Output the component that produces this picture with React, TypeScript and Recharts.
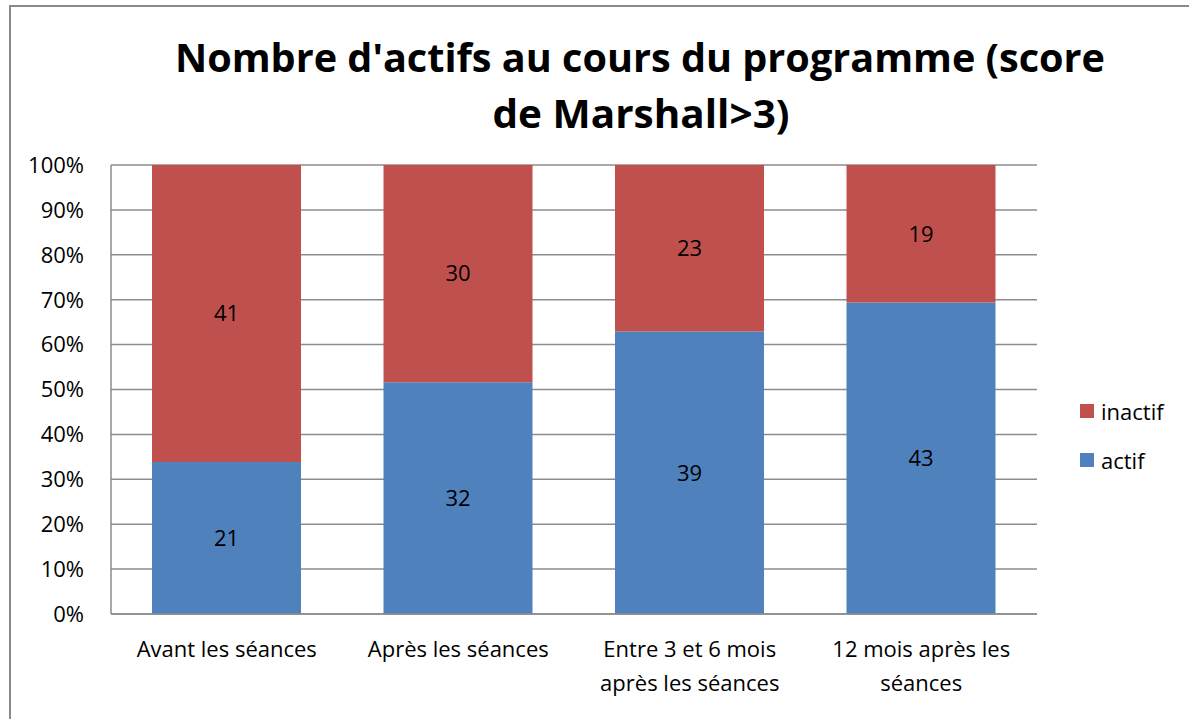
import React from "react";
import { BarChart, Bar, XAxis, YAxis, CartesianGrid, LabelList } from "recharts";

const categories = [
  "Avant les séances",
  "Après les séances",
  "Entre 3 et 6 mois après les séances",
  "12 mois après les séances",
];
const actif = [21, 32, 39, 43];
const inactif = [41, 30, 23, 19];
const yTicks = [0, 0.1, 0.2, 0.3, 0.4, 0.5, 0.6, 0.7, 0.8, 0.9, 1];
const titleLines = ["Nombre d'actifs au cours du programme (score", "de Marshall>3)"];
const legendItems = [
  { name: "inactif", color: "#C0504D" },
  { name: "actif", color: "#4F81BD" },
];

const data = categories.map((c, i) => ({ name: c, actif: actif[i], inactif: inactif[i] }));

const FONT = "'Open Sans', sans-serif";
const GRID = "#8c8c8c";
const FS = 22;

function wrap(text: string, max: number): string[] {
  const words = text.split(" ");
  const lines: string[] = [];
  let cur = "";
  for (const w of words) {
    const next = cur ? cur + " " + w : w;
    if (next.length > max && cur) {
      lines.push(cur);
      cur = w;
    } else cur = next;
  }
  if (cur) lines.push(cur);
  return lines;
}

const XTick = (props: any) => {
  const { x, y, payload } = props;
  const lines = wrap(payload.value, 17);
  return (
    <text x={x} y={y} textAnchor="middle" fontFamily={FONT} fontSize={FS} fill="#000">
      {lines.map((l, i) => (
        <tspan key={i} x={x} dy={i === 0 ? 35 : 34}>
          {l}
        </tspan>
      ))}
    </text>
  );
};

export default function App() {
  return (
    <div style={{ position: "absolute", left: 0, top: 0, width: 1189, height: 719, background: "#fff", overflow: "hidden" }}>
      <div
        style={{
          position: "absolute",
          left: 9,
          top: 5,
          width: 1300,
          height: 900,
          border: "2px solid #8a8a8a",
          boxSizing: "border-box",
        }}
      />
      <svg style={{ position: "absolute", left: 0, top: 0 }} width={1189} height={160}>
        <text x={640} y={72} textAnchor="middle" fontFamily={FONT} fontWeight={700} fontSize={40} textLength={930} lengthAdjust="spacingAndGlyphs">
          {titleLines[0]}
        </text>
        <text x={641} y={128} textAnchor="middle" fontFamily={FONT} fontWeight={700} fontSize={40} textLength={297} lengthAdjust="spacingAndGlyphs">
          {titleLines[1]}
        </text>
      </svg>
      <div style={{ position: "absolute", left: 0, top: 0 }}>
        <BarChart
          width={1189}
          height={719}
          data={data}
          stackOffset="expand"
          margin={{ top: 165, right: 152, bottom: 0, left: 51 }}
          barSize={149}
        >
          <CartesianGrid vertical={false} stroke={GRID} strokeWidth={1.5} />
          <XAxis
            dataKey="name"
            interval={0}
            tickLine={false}
            axisLine={{ stroke: GRID, strokeWidth: 1.5 }}
            tick={<XTick />}
            height={105}
          />
          <YAxis
            width={60}
            domain={[0, 1]}
            ticks={yTicks}
            tickFormatter={(v: number) => Math.round(v * 100) + "%"}
            tickLine={false}
            tickSize={0}
            tickMargin={27}
            axisLine={{ stroke: GRID, strokeWidth: 1.5 }}
            tick={{ fill: "#000", fontSize: FS, fontFamily: FONT }}
          />
          <Bar dataKey="actif" stackId="a" fill="#4F81BD" isAnimationActive={false}>
            <LabelList dataKey="actif" position="center" fill="#000" fontSize={FS} fontFamily={FONT} />
          </Bar>
          <Bar dataKey="inactif" stackId="a" fill="#C0504D" isAnimationActive={false}>
            <LabelList dataKey="inactif" position="center" fill="#000" fontSize={FS} fontFamily={FONT} />
          </Bar>
        </BarChart>
      </div>
      <div style={{ position: "absolute", left: 1080, top: 395, fontFamily: FONT, fontSize: FS }}>
        {legendItems.map((it) => (
          <div key={it.name} style={{ display: "flex", alignItems: "center", height: 32, marginBottom: 17 }}>
            <span style={{ width: 14, height: 14, background: it.color, display: "inline-block", marginRight: 7 }} />
            <span>{it.name}</span>
          </div>
        ))}
      </div>
    </div>
  );
}
